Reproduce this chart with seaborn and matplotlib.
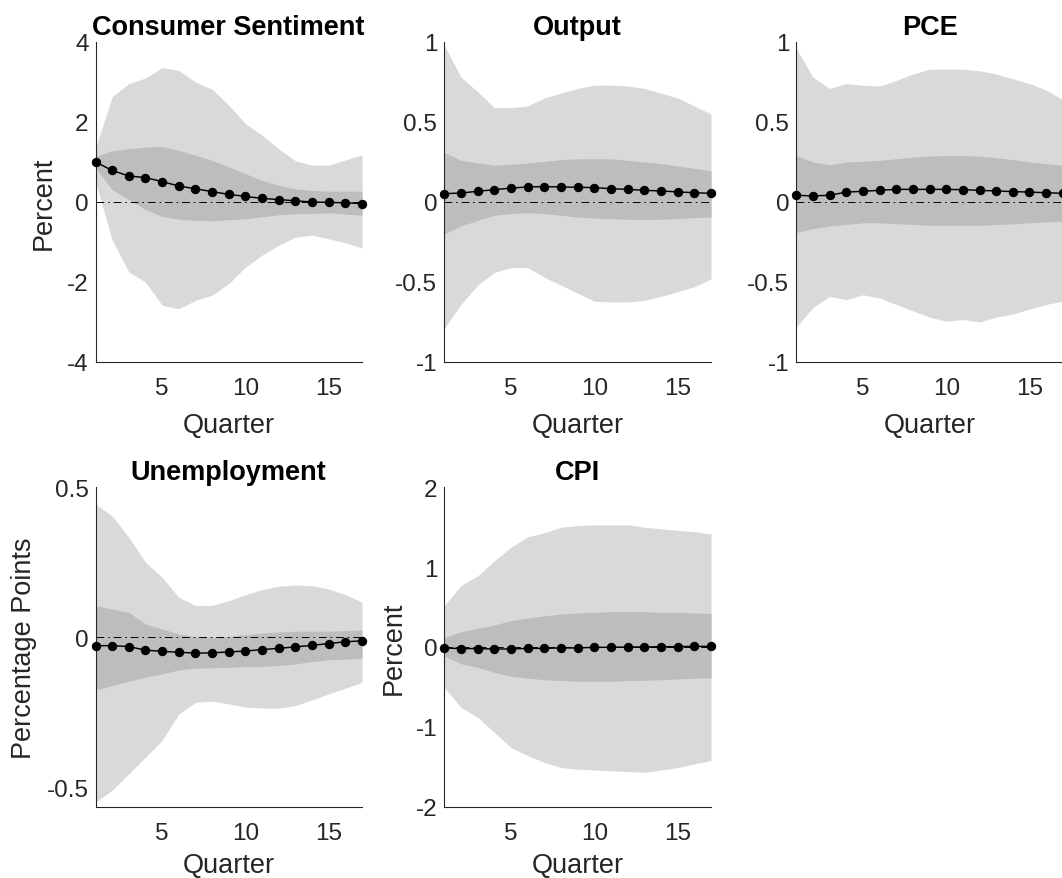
import numpy as np
import pandas as pd
import matplotlib
matplotlib.use("Agg")
import matplotlib.pyplot as plt
import seaborn as sns

# ---------------- data ----------------
quarters = list(range(1, 18))

titles = ["Consumer Sentiment", "Output", "PCE", "Unemployment", "CPI"]
ylabels = ["Percent", "", "", "Percentage Points", "Percent"]

cs_irf = [1.0, 0.79, 0.65, 0.61, 0.51, 0.40, 0.33, 0.26, 0.19, 0.14, 0.09, 0.06, 0.03, 0.0, -0.01, -0.02, -0.04]
cs_outer_hi = [1.35, 2.63, 2.96, 3.10, 3.36, 3.29, 3.00, 2.82, 2.42, 1.96, 1.67, 1.33, 1.03, 0.92, 0.92, 1.05, 1.18]
cs_outer_lo = [0.50, -0.95, -1.75, -2.00, -2.58, -2.67, -2.46, -2.33, -2.04, -1.63, -1.33, -1.08, -0.88, -0.83, -0.92, -1.02, -1.15]
cs_inner_hi = [1.14, 1.28, 1.33, 1.37, 1.39, 1.29, 1.17, 1.04, 0.88, 0.71, 0.54, 0.42, 0.33, 0.29, 0.27, 0.27, 0.27]
cs_inner_lo = [0.85, 0.31, 0.06, -0.19, -0.36, -0.43, -0.46, -0.47, -0.44, -0.42, -0.37, -0.32, -0.29, -0.29, -0.27, -0.30, -0.33]

out_irf = [0.052, 0.056, 0.067, 0.077, 0.087, 0.094, 0.096, 0.094, 0.092, 0.090, 0.083, 0.079, 0.073, 0.069, 0.063, 0.058, 0.054]
out_outer_hi = [0.98, 0.78, 0.69, 0.59, 0.59, 0.60, 0.65, 0.68, 0.71, 0.73, 0.73, 0.725, 0.71, 0.68, 0.65, 0.60, 0.55]
out_outer_lo = [-0.79, -0.64, -0.52, -0.44, -0.41, -0.41, -0.47, -0.52, -0.57, -0.62, -0.625, -0.625, -0.615, -0.59, -0.56, -0.53, -0.48]
out_inner_hi = [0.31, 0.26, 0.245, 0.23, 0.235, 0.244, 0.254, 0.265, 0.27, 0.27, 0.27, 0.26, 0.25, 0.24, 0.225, 0.21, 0.195]
out_inner_lo = [-0.20, -0.15, -0.115, -0.083, -0.073, -0.067, -0.073, -0.083, -0.094, -0.10, -0.104, -0.108, -0.108, -0.108, -0.104, -0.098, -0.094]

pce_irf = [0.042, 0.038, 0.042, 0.062, 0.067, 0.073, 0.079, 0.079, 0.079, 0.079, 0.077, 0.073, 0.069, 0.065, 0.062, 0.058, 0.054]
pce_outer_hi = [0.96, 0.78, 0.71, 0.74, 0.73, 0.725, 0.76, 0.80, 0.83, 0.83, 0.83, 0.82, 0.80, 0.77, 0.74, 0.70, 0.64]
pce_outer_lo = [-0.78, -0.66, -0.59, -0.61, -0.58, -0.60, -0.64, -0.68, -0.72, -0.745, -0.735, -0.75, -0.72, -0.70, -0.67, -0.64, -0.62]
pce_inner_hi = [0.29, 0.25, 0.233, 0.25, 0.254, 0.26, 0.27, 0.28, 0.287, 0.29, 0.29, 0.287, 0.277, 0.265, 0.25, 0.24, 0.23]
pce_inner_lo = [-0.19, -0.167, -0.15, -0.14, -0.13, -0.13, -0.135, -0.14, -0.146, -0.146, -0.146, -0.146, -0.14, -0.137, -0.13, -0.125, -0.12]

un_irf = [-0.028, -0.028, -0.031, -0.043, -0.047, -0.050, -0.053, -0.052, -0.049, -0.046, -0.041, -0.037, -0.032, -0.027, -0.021, -0.015, -0.012]
un_outer_hi = [0.444, 0.405, 0.333, 0.25, 0.20, 0.133, 0.106, 0.106, 0.122, 0.142, 0.159, 0.17, 0.174, 0.172, 0.161, 0.142, 0.117]
un_outer_lo = [-0.55, -0.51, -0.455, -0.40, -0.344, -0.256, -0.217, -0.213, -0.222, -0.233, -0.236, -0.236, -0.228, -0.209, -0.189, -0.17, -0.15]
un_inner_hi = [0.106, 0.094, 0.083, 0.044, 0.028, 0.011, 0.002, 0.0, 0.003, 0.009, 0.014, 0.018, 0.02, 0.02, 0.02, 0.022, 0.024]
un_inner_lo = [-0.176, -0.161, -0.147, -0.133, -0.122, -0.109, -0.103, -0.102, -0.10, -0.098, -0.097, -0.094, -0.089, -0.081, -0.075, -0.073, -0.07]

cpi_irf = [-0.012, -0.02, -0.02, -0.025, -0.025, -0.017, -0.017, -0.012, -0.012, -0.004, -0.004, 0.0, 0.0, 0.004, 0.004, 0.008, 0.008]
cpi_outer_hi = [0.52, 0.77, 0.89, 1.08, 1.25, 1.38, 1.43, 1.50, 1.52, 1.53, 1.53, 1.53, 1.50, 1.48, 1.46, 1.445, 1.415]
cpi_outer_lo = [-0.505, -0.756, -0.88, -1.07, -1.26, -1.36, -1.445, -1.51, -1.53, -1.54, -1.55, -1.56, -1.57, -1.54, -1.51, -1.465, -1.42]
cpi_inner_hi = [0.12, 0.19, 0.234, 0.276, 0.33, 0.363, 0.39, 0.413, 0.426, 0.434, 0.443, 0.443, 0.443, 0.434, 0.434, 0.426, 0.42]
cpi_inner_lo = [-0.11, -0.21, -0.255, -0.317, -0.367, -0.39, -0.41, -0.42, -0.43, -0.43, -0.43, -0.42, -0.417, -0.41, -0.40, -0.39, -0.39]

ylims = [(-4, 4), (-1, 1), (-1, 1), (-0.565, 0.5), (-2, 2)]
yticks = [[-4, -2, 0, 2, 4], [-1, -0.5, 0, 0.5, 1], [-1, -0.5, 0, 0.5, 1], [-0.5, 0, 0.5], [-2, -1, 0, 1, 2]]
yticklabels = [["-4", "-2", "0", "2", "4"], ["-1", "-0.5", "0", "0.5", "1"], ["-1", "-0.5", "0", "0.5", "1"],
               ["-0.5", "0", "0.5"], ["-2", "-1", "0", "1", "2"]]
xticks = [5, 10, 15]

series = [
    (cs_irf, cs_outer_lo, cs_outer_hi, cs_inner_lo, cs_inner_hi),
    (out_irf, out_outer_lo, out_outer_hi, out_inner_lo, out_inner_hi),
    (pce_irf, pce_outer_lo, pce_outer_hi, pce_inner_lo, pce_inner_hi),
    (un_irf, un_outer_lo, un_outer_hi, un_inner_lo, un_inner_hi),
    (cpi_irf, cpi_outer_lo, cpi_outer_hi, cpi_inner_lo, cpi_inner_hi),
]

# ---------------- style ----------------
sns.set_theme(style="white")
plt.rcParams["font.family"] = ["Liberation Sans", "DejaVu Sans"]
TXT = "#262626"
OUTER = "#d9d9d9"
INNER = "#bdbdbd"
TICK_FS = 17.5
LABEL_FS = 19.5

W, H = 1062, 879
fig = plt.figure(figsize=(W / 100, H / 100), dpi=100)
fig.patch.set_facecolor("white")

# axes boxes in pixels: (left, top, right, bottom)
boxes = [
    (95.5, 43, 362, 363),
    (444.3, 43, 711, 363),
    (796.3, 43, 1062.8, 363),
    (95.5, 488.3, 362, 807.7),
    (444.3, 488.3, 711, 807.7),
]
ylabel_x = [-0.145, None, None, -0.22, -0.142]
xlabel_y = [-0.156, -0.156, -0.156, -0.142, -0.142]

for i, (l, t, r, b) in enumerate(boxes):
    ax = fig.add_axes([l / W, 1 - b / H, (r - l) / W, (b - t) / H])
    irf, olo, ohi, ilo, ihi = series[i]
    df = pd.DataFrame({"Quarter": quarters, "irf": irf})
    ax.fill_between(quarters, olo, ohi, color=OUTER, lw=0, zorder=1)
    ax.fill_between(quarters, ilo, ihi, color=INNER, lw=0, zorder=2)
    ax.axhline(0, color="black", lw=0.7, ls=(0, (8, 4, 1.6, 4)), zorder=3)
    sns.lineplot(data=df, x="Quarter", y="irf", ax=ax, color="black", lw=1.05,
                 marker="o", markersize=6, markeredgecolor="black",
                 markerfacecolor="black", clip_on=False, zorder=4)
    ax.set_xlim(1, 17)
    ax.set_ylim(*ylims[i])
    ax.set_xticks(xticks)
    ax.set_xticklabels([str(v) for v in xticks])
    ax.set_yticks(yticks[i])
    ax.set_yticklabels(yticklabels[i])
    for s in ["top", "right"]:
        ax.spines[s].set_visible(False)
    for s in ["left", "bottom"]:
        ax.spines[s].set_color(TXT)
        ax.spines[s].set_linewidth(0.8)
    ax.tick_params(axis="both", direction="in", length=2.5, width=0.7, color=TXT,
                   labelcolor=TXT, labelsize=TICK_FS)
    ax.tick_params(axis="x", pad=11.0)
    ax.tick_params(axis="y", pad=5.0)
    ax.set_xlabel("Quarter", fontsize=LABEL_FS, color=TXT)
    ax.xaxis.set_label_coords(0.5, xlabel_y[i])
    if ylabels[i]:
        ax.set_ylabel(ylabels[i], fontsize=LABEL_FS, color=TXT)
        ax.yaxis.set_label_coords(ylabel_x[i], 0.5)
    else:
        ax.set_ylabel("")
    ax.set_title(titles[i], fontsize=LABEL_FS, fontweight="bold", color="black", pad=6)
    ax.set_facecolor("white")
    ax.grid(False)

fig.savefig("out.png", dpi=100, facecolor="white")
